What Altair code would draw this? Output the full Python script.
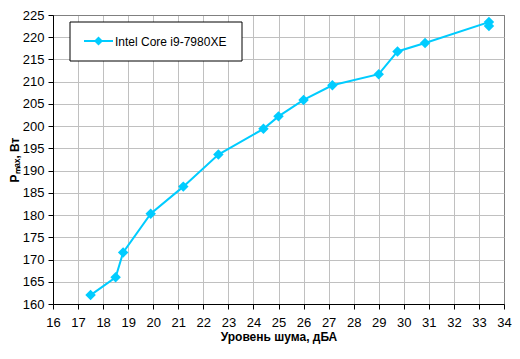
import altair as alt
import pandas as pd

# Data
noise = [17.5, 18.5, 18.8, 19.9, 21.2, 22.6, 24.4, 25.0, 26.0, 27.15, 29.0, 29.75, 30.85, 33.4, 33.4]
power = [162.0, 166.0, 171.6, 180.3, 186.4, 193.6, 199.4, 202.2, 205.9, 209.2, 211.7, 216.8, 218.7, 223.4, 222.5]
series_name = "Intel Core i9-7980XE"
x_ticks = list(range(16, 35))
y_ticks = list(range(160, 226, 5))

df = pd.DataFrame({
    "noise": noise,
    "power": power,
    "order": list(range(len(noise))),
    "series": [series_name] * len(noise),
})
leg_df = pd.DataFrame({"series": [series_name]})

color = "#00CCFF"
FONT = "Liberation Sans"
W, H = 451, 289

x_enc = alt.X(
    "noise:Q",
    scale=alt.Scale(domain=[16, 34], nice=False, zero=False),
    axis=alt.Axis(
        values=x_ticks,
        title="Уровень шума, дБА",
        labelPadding=7,
        labelFlush=False,
        tickSize=5,
        titleX=W / 2,
        titleY=36,
        titleBaseline="alphabetic",
        gridColor=alt.condition("datum.value == 34", alt.value("#808080"), alt.value("#C0C0C0")),
    ),
)
y_enc = alt.Y(
    "power:Q",
    scale=alt.Scale(domain=[160, 225], nice=False, zero=False),
    axis=alt.Axis(
        values=y_ticks,
        title="Pₘₐₓ, Вт",
        labelPadding=4,
        labelFlush=False,
        tickSize=5,
        titleX=-35,
        titleY=H / 2,
        titleAngle=270,
        titleAlign="center",
        titleBaseline="alphabetic",
        gridColor=alt.condition("datum.value == 225", alt.value("#808080"), alt.value("#C0C0C0")),
    ),
)

base = alt.Chart(df)
line = base.mark_line(color=color, strokeWidth=2).encode(x=x_enc, y=y_enc, order="order:Q")
pts = base.mark_point(shape="diamond", filled=True, color=color, size=110, opacity=1).encode(x=x_enc, y=y_enc)

leg = alt.Chart(leg_df)
box = leg.mark_rect(fill="white", stroke="black", strokeWidth=1).encode(
    x=alt.value(17), x2=alt.value(189), y=alt.value(7), y2=alt.value(46)
)
leg_line = leg.mark_rule(color=color, strokeWidth=2).encode(
    x=alt.value(31), x2=alt.value(60), y=alt.value(26)
)
leg_pt = leg.mark_point(shape="diamond", filled=True, color=color, size=80, opacity=1).encode(
    x=alt.value(45.5), y=alt.value(26)
)
leg_txt = leg.mark_text(align="left", baseline="middle", font=FONT, fontSize=12, color="black").encode(
    x=alt.value(62), y=alt.value(26.5), text="series:N"
)

chart = alt.layer(line, pts, box, leg_line, leg_pt, leg_txt).properties(
    width=W,
    height=H,
    autosize=alt.AutoSizeParams(type="none"),
    padding={"left": 45, "top": 7, "right": 8, "bottom": 40},
    background="white",
).configure_view(
    stroke="#808080", strokeWidth=1
).configure_axis(
    domainColor="black",
    tickColor="black",
    labelFont=FONT,
    labelFontSize=13,
    labelColor="black",
    titleFont=FONT,
    titleFontSize=12,
    titleFontWeight="bold",
    titleColor="black",
    gridWidth=1,
)

chart.save("out.html", embed_options={"renderer": "svg", "actions": False})
